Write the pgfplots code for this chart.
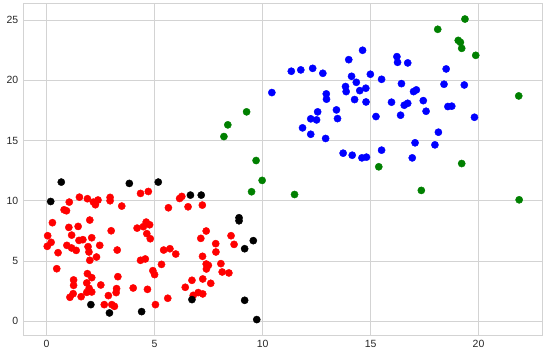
\documentclass[border=0pt]{standalone}
\usepackage{fontspec}
\setmainfont{Liberation Sans}
\usepackage{pgfplots}
\pgfplotsset{compat=1.18}
\definecolor{gridgray}{HTML}{D3D3D3}
\definecolor{ticktext}{HTML}{262626}
\definecolor{mplgreen}{HTML}{008000}
\pgfplotsset{dot/.style={only marks, mark=*, mark size=3.6bp, color=#1, mark options={draw=none, fill=#1}}}
\begin{document}
\begin{tikzpicture}
\path[use as bounding box] (-23.7bp,-22bp) rectangle (523.3bp,335bp);
\begin{axis}[
  scale only axis,
  width=519bp, height=331bp,
  xmin=-1.06, xmax=22.97,
  ymin=-1.14, ymax=26.33,
  xtick={0,5,10,15,20},
  ytick={0,5,10,15,20,25},
  grid=major,
  grid style={color=gridgray, line width=1bp},
  axis line style={color=gridgray, line width=1bp},
  major tick length=0pt,
  tick label style={color=ticktext, font=\fontsize{10.5}{12}\selectfont},
  /pgf/number format/assume math mode=true,
  xticklabel style={yshift=-2bp},
  yticklabel style={xshift=-2bp},
]
% red
\addplot[dot=red] coordinates {
(0.05,7.10) (0.03,6.22) (0.21,6.55) (0.27,8.18) (0.53,5.69) (0.47,4.36)
(0.81,9.25) (0.92,9.17) (1.05,9.89) (1.03,7.79) (1.16,7.15) (0.94,6.30)
(1.16,6.08) (1.37,5.88) (1.46,7.87) (1.50,6.71) (1.68,6.77) (1.52,10.30)
(1.89,10.17) (2.17,9.89) (2.26,9.67) (2.38,10.06) (2.00,8.40) (2.09,6.93)
(1.92,6.19) (1.96,5.75) (2.00,5.06) (2.31,5.33) (2.46,6.30) (1.25,3.43)
(1.25,2.98) (1.23,2.29) (1.08,1.99) (1.60,2.04) (1.89,3.95) (2.09,3.62)
(1.86,3.18) (1.97,2.73) (1.86,2.40) (2.09,2.43) (2.51,3.01) (2.67,1.38)
(2.86,2.13) (3.02,1.38) (3.14,1.24) (3.22,2.38) (3.24,2.71) (3.30,3.70)
(3.27,5.91) (2.99,7.51) (2.94,10.28) (2.94,10.00) (3.48,9.56) (4.01,2.76)
(4.19,7.73) (4.35,10.61) (4.71,10.77) (4.48,7.85) (4.61,8.23) (4.77,8.01)
(4.64,7.27) (4.80,6.85) (4.35,5.06) (4.57,5.17) (4.92,4.20) (5.00,3.87)
(4.67,2.65) (5.04,1.38) (5.32,4.72) (5.42,5.91) (5.71,6.02) (5.64,9.42)
(5.98,5.58) (5.61,1.91) (6.16,10.19) (6.26,10.36) (6.55,9.50) (6.42,2.82)
(6.73,3.40) (6.79,2.15) (7.02,2.38) (7.23,2.27) (7.23,3.51) (7.22,5.39)
(7.14,6.88) (7.39,7.49) (7.21,9.64) (7.39,4.75) (7.49,4.64) (7.40,4.34)
(7.60,3.15) (7.83,6.44) (7.84,5.75) (8.07,4.78) (8.13,4.09) (8.44,4.01)
(8.54,7.10) (8.68,6.38)
};
% black
\addplot[dot=black] coordinates {
(0.68,11.55) (0.19,9.94) (3.83,11.44) (5.17,11.55) (6.66,10.47) (7.16,10.47)
(8.91,8.59) (8.91,8.34) (9.57,6.69) (9.17,6.02) (2.05,1.38) (2.91,0.69)
(4.40,0.80) (6.73,1.80) (9.17,1.74) (9.73,0.14)
};
% blue
\addplot[dot=blue] coordinates {
(10.43,18.98) (11.33,20.75) (11.77,20.86) (12.32,20.99) (12.79,20.58)
(13.99,21.71) (14.63,22.49) (16.22,21.96) (16.25,21.49) (16.72,21.44)
(14.12,20.33) (14.34,19.83) (14.99,20.50) (15.51,20.08) (13.84,19.48)
(13.87,19.06) (14.50,19.14) (14.78,19.34) (14.26,18.40) (14.79,18.20)
(12.95,18.87) (12.96,18.43) (13.42,17.54) (13.47,16.82) (12.55,17.38)
(12.23,16.80) (12.50,16.71) (11.85,16.05) (12.23,15.52) (12.92,15.17)
(13.73,13.95) (14.15,13.78) (14.60,13.56) (14.81,13.62) (15.51,14.20)
(15.25,16.99) (15.97,18.18) (16.43,19.72) (16.39,17.10) (16.56,17.93)
(16.72,18.09) (16.99,19.06) (17.12,19.20) (17.44,18.31) (17.57,17.43)
(17.06,14.81) (16.93,13.56) (17.98,14.64) (18.14,15.69) (18.40,19.67)
(18.50,20.94) (18.58,17.82) (18.76,17.85) (19.34,19.61) (19.81,16.93)
};
% green
\addplot[dot=mplgreen] coordinates {
(19.37,25.08) (18.11,24.23) (19.06,23.31) (19.16,23.15) (19.22,22.65)
(19.87,22.07) (21.86,18.70) (9.26,17.38) (8.39,16.30) (8.21,15.33)
(9.70,13.34) (9.98,11.69) (9.49,10.75) (11.48,10.52) (15.38,12.82)
(19.22,13.09) (17.35,10.86) (21.88,10.08)
};
\end{axis}
\end{tikzpicture}
\end{document}
